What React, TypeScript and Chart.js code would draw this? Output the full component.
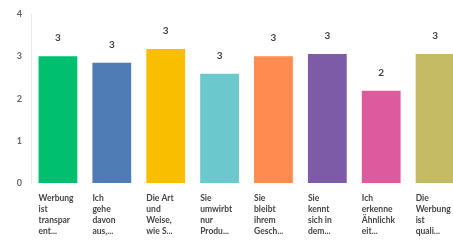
import React, { useEffect, useRef } from "react";
import { Chart, registerables } from "chart.js";

Chart.register(...registerables);

const categories: string[][] = [
  ["Werbung", "ist", "transpar", "ent..."],
  ["Ich", "gehe", "davon", "aus,..."],
  ["Die Art", "und", "Weise,", "wie S..."],
  ["Sie", "umwirbt", "nur", "Produ..."],
  ["Sie", "bleibt", "ihrem", "Gesch..."],
  ["Sie", "kennt", "sich in", "dem..."],
  ["Ich", "erkenne", "Ähnlichk", "eit..."],
  ["Die", "Werbung", "ist", "quali..."],
];
const values: number[] = [3.01, 2.85, 3.18, 2.59, 3.01, 3.06, 2.19, 3.06];
const barColors: string[] = [
  "#00BF6F",
  "#507CB6",
  "#F9BE00",
  "#6BC8CD",
  "#FF8B4F",
  "#7D5BA6",
  "#DE5A9E",
  "#C4BB64",
];
const yTicks: number[] = [0, 1, 2, 3, 4];

const labelPlugin = {
  id: "customLabels",
  afterDatasetsDraw(chart: any) {
    const ctx = chart.ctx;
    const meta = chart.getDatasetMeta(0);
    ctx.save();
    meta.data.forEach((bar: any, i: number) => {
      const v = values[i];
      ctx.fillStyle = "#3f3f3f";
      ctx.font = "bold 10px Lato, 'Open Sans', sans-serif";
      ctx.textAlign = "center";
      ctx.textBaseline = "middle";
      ctx.fillText(String(Math.round(v)), bar.x, bar.y - 18);

      const left = bar.x - bar.width / 2;
      ctx.fillStyle = "#444";
      ctx.font = "bold 8.5px Lato, 'Open Sans', sans-serif";
      ctx.textAlign = "left";
      const lines = categories[i];
      lines.forEach((ln, j) => {
        ctx.fillText(ln, left, 198 + j * 11);
      });
    });
    ctx.restore();
  },
};

export default function App() {
  const ref = useRef<HTMLCanvasElement | null>(null);
  useEffect(() => {
    if (!ref.current) return;
    const chart = new Chart(ref.current, {
      type: "bar",
      data: {
        labels: categories.map((c) => c.join(" ")),
        datasets: [
          {
            data: values,
            backgroundColor: barColors,
            borderWidth: 0,
            barPercentage: 0.8,
            categoryPercentage: 0.9,
          },
        ],
      },
      options: {
        responsive: false,
        animation: false,
        layout: { padding: { top: 14, bottom: 59, right: 0, left: 0 } },
        plugins: {
          legend: { display: false },
          tooltip: { enabled: false },
        },
        scales: {
          x: {
            display: false,
          },
          y: {
            min: 0,
            max: 4,
            afterFit: (scale: any) => {
              scale.width = 31;
            },
            afterBuildTicks: (scale: any) => {
              scale.ticks = yTicks.map((v) => ({ value: v }));
            },
            grid: { display: false, drawTicks: false },
            border: { display: true, color: "#e8e8e8", width: 1 },
            ticks: {
              padding: 9,
              color: "#666",
              font: { size: 9, weight: "bold", family: "Lato, 'Open Sans', sans-serif" },
            },
          },
        },
      },
      plugins: [labelPlugin],
    });
    return () => chart.destroy();
  }, []);
  return (
    <div style={{ position: "absolute", left: 0, top: 0, width: 453, height: 242, overflow: "hidden", background: "#fff" }}>
      <canvas ref={ref} width={462} height={242} style={{ display: "block" }} />
    </div>
  );
}
